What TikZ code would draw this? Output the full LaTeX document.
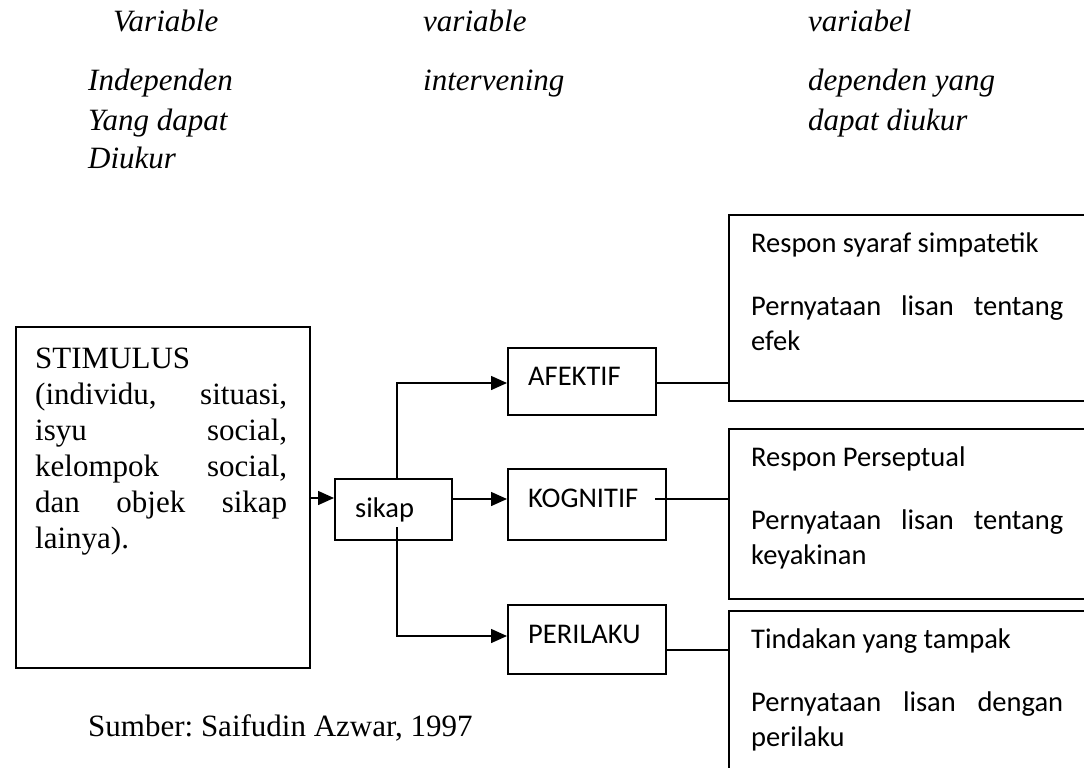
\documentclass[tikz,border=0pt]{standalone}
\usepackage{fontspec}
\setmainfont{Liberation Serif}
\newfontfamily\sansf{Carlito}
\usetikzlibrary{arrows.meta}
\begin{document}
\frenchspacing
\begin{tikzpicture}[x=1pt,y=-1pt]
\tikzset{
  box/.style={draw, line width=1.5pt, inner sep=0pt, anchor=north west},
  arr/.style={line width=1.5pt, -{Triangle[length=16pt,width=14pt]}},
  conn/.style={line width=1.5pt},
  serif/.style={font=\fontsize{31}{36}\selectfont, anchor=base west, inner sep=0pt},
  ital/.style={font=\fontsize{31}{36}\selectfont\itshape, anchor=base west, inner sep=0pt},
  sans/.style={font=\sansf\fontsize{28.5}{35}\selectfont, anchor=base west, inner sep=0pt},
}
\useasboundingbox (0,0) rectangle (1084,768);
\clip (0,0) rectangle (1084,768);
\fill[white] (0,0) rectangle (1084,768);

% headers
\node[ital] (h1) at (113,32) {Variable};
\node[ital] (h2) at (423,32) {variable};
\node[ital] (h3) at (808,32) {variabel};
\node[ital] (h4) at (88,90) {Independen};
\node[ital] (h5) at (88,130) {Yang dapat};
\node[ital] (h6) at (88,168) {Diukur};
\node[ital] (h7) at (423,90) {intervening};
\node[ital] (h8) at (808,90) {dependen yang};
\node[ital] (h9) at (808,130) {dapat diukur};

% stimulus box
\node[box, minimum width=294pt, minimum height=341pt] (stim) at (15,326) {};
\node[serif] (s1) at (35,368) {STIMULUS};
\node[serif] (s2) at (35,404) {\makebox[252pt][s]{(individu, situasi,}};
\node[serif] (s3) at (35,440) {\makebox[252pt][s]{isyu social,}};
\node[serif] (s4) at (35,476) {\makebox[252pt][s]{kelompok social,}};
\node[serif] (s5) at (35,512) {\makebox[252pt][s]{dan objek sikap}};
\node[serif] (s6) at (35,548) {lainya).};

% sikap
\node[box, minimum width=117pt, minimum height=61pt] (sikap) at (334,478) {};
\node[sans] (sikapt) at (355,517) {sikap};

% three components
\node[box, minimum width=148pt, minimum height=67pt] (afektif) at (507,347) {};
\node[sans] (afektift) at (528,385) {AFEKTIF};
\node[box, minimum width=158pt, minimum height=71pt] (kognitif) at (507,468) {};
\node[sans] (kognitift) at (528,507) {KOGNITIF};
\node[box, minimum width=158pt, minimum height=69pt] (perilaku) at (507,604) {};
\node[sans] (perilakut) at (528,643) {PERILAKU};

% response boxes
\node[box, minimum width=400pt, minimum height=186pt] (r1) at (728,214) {};
\node[sans] (r1a) at (751,252) {Respon syaraf simpatetik};
\node[sans] (r1b) at (751,315) {\makebox[312pt][s]{Pernyataan lisan tentang}};
\node[sans] (r1c) at (751,350) {efek};
\node[box, minimum width=400pt, minimum height=170pt] (r2) at (728,428) {};
\node[sans] (r2a) at (751,466) {Respon Perseptual};
\node[sans] (r2b) at (751,529) {\makebox[312pt][s]{Pernyataan lisan tentang}};
\node[sans] (r2c) at (751,564) {keyakinan};
\node[box, minimum width=400pt, minimum height=200pt] (r3) at (728,610) {};
\node[sans] (r3a) at (751,648) {Tindakan yang tampak};
\node[sans] (r3b) at (751,711) {\makebox[312pt][s]{Pernyataan lisan dengan}};
\node[sans] (r3c) at (751,746) {perilaku};

% source
\node[serif] (src) at (88,736) {Sumber: Saifudin Azwar, 1997};

% helper coordinates
\coordinate (yin) at (0,498);
\coordinate (jt) at (397,383);
\coordinate (jbtop) at (397,527);
\coordinate (jb) at (397,636);
\coordinate (ky) at (0,499);
\coordinate (kstart) at (655,499);
\coordinate (py) at (0,650);

% connectors
\draw[arr] (stim.east |- yin) -- (sikap.west |- yin);
\draw[arr] (sikap.north -| jt) |- (afektif.west |- jt);
\draw[arr] (jbtop) |- (perilaku.west |- jb);
\draw[arr] (sikap.east |- ky) -- (kognitif.west |- ky);
\draw[conn] (afektif.east |- jt) -- (r1.west |- jt);
\draw[conn] (kstart) -- (r2.west |- kstart);
\draw[conn] (perilaku.east |- py) -- (r3.west |- py);
\end{tikzpicture}
\end{document}
